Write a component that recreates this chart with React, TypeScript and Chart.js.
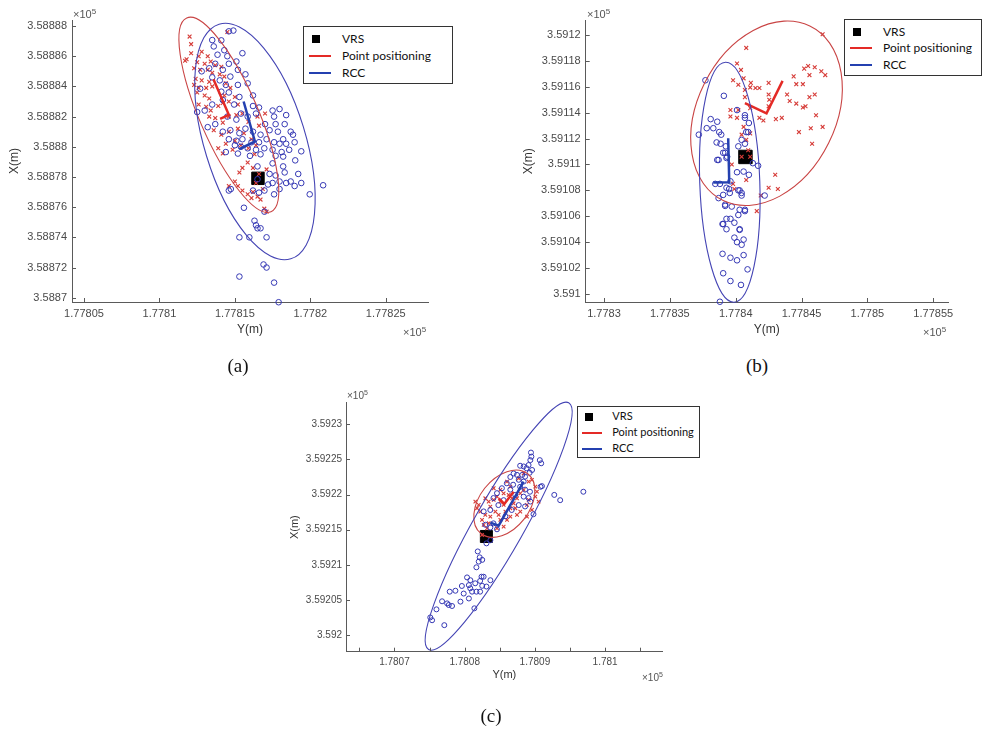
import React, { useEffect, useRef } from "react";
import { Chart, registerables } from "chart.js";
Chart.register(...registerables);

type Pt = [number, number];
type Ell = { center: Pt; semiMajor: number; semiMinor: number; angleDeg: number };

// ================= Panel (a) =================
const A_X_RANGE: Pt = [177804.205, 177827.8];
const A_Y_RANGE: Pt = [358869.715, 358888.4];
const A_X_STEP = 5;
const A_Y_STEP = 2;
const A_VRS: Pt[] = [[177816.53, 358877.91]];
const A_PP: Pt[] = [
  [177814.5, 358887.6], [177812.1, 358886.8], [177811.8, 358885.8], [177812.1, 358886.2], [177812.8, 358886.3],
  [177812.6, 358886.0], [177813.2, 358886.0], [177812.5, 358885.6], [177813.0, 358885.5], [177813.4, 358885.65],
  [177813.7, 358885.4], [177814.1, 358885.3], [177812.3, 358885.2], [177812.7, 358885.1], [177813.2, 358885.1],
  [177813.5, 358884.9], [177814.0, 358884.8], [177814.3, 358884.65], [177812.4, 358884.5], [177812.8, 358884.4],
  [177813.3, 358884.3], [177812.3, 358884.1], [177812.6, 358883.9], [177813.1, 358883.9], [177813.5, 358884.0],
  [177814.4, 358884.2], [177814.7, 358883.9], [177812.5, 358883.6], [177813.0, 358883.4], [177813.3, 358883.2],
  [177814.3, 358883.4], [177815.0, 358883.3], [177812.6, 358882.8], [177813.1, 358882.65], [177813.4, 358882.4],
  [177813.9, 358882.7], [177814.2, 358882.9], [177814.6, 358883.0], [177815.2, 358882.8], [177813.3, 358882.0],
  [177813.7, 358881.9], [177814.2, 358881.6], [177814.6, 358882.0], [177815.1, 358882.1], [177815.5, 358882.2],
  [177815.9, 358881.65], [177816.5, 358882.0], [177817.0, 358882.2], [177816.6, 358881.4], [177813.6, 358881.1],
  [177814.1, 358880.8], [177814.6, 358881.0], [177815.2, 358881.2], [177815.6, 358880.9], [177816.1, 358880.5],
  [177815.0, 358880.4], [177814.4, 358880.2], [177815.4, 358880.1], [177815.9, 358879.9], [177816.4, 358880.1],
  [177813.9, 358879.9], [177814.85, 358879.8], [177814.2, 358879.55], [177816.3, 358879.5], [177815.85, 358878.96],
  [177815.5, 358878.6], [177815.3, 358878.3], [177816.2, 358878.6], [177816.6, 358878.2], [177815.0, 358877.7],
  [177815.2, 358877.4], [177815.5, 358877.1], [177815.85, 358876.85], [177816.2, 358877.0], [177816.5, 358876.7],
  [177816.85, 358877.2], [177816.1, 358876.6], [177816.7, 358876.5], [177816.95, 358875.9], [177817.1, 358875.7],
  [177816.4, 358877.6], [177817.1, 358878.5], [177814.6, 358877.4], [177811.7, 358885.7], [177812.0, 358887.3],
];
const A_RCC: Pt[] = [
  [177814.6, 358887.65], [177814.9, 358887.7], [177814.1, 358887.05], [177813.6, 358886.65], [177814.3, 358886.4],
  [177814.5, 358886.0], [177813.85, 358886.1], [177815.5, 358886.2], [177815.1, 358885.65], [177814.6, 358885.5],
  [177813.7, 358885.5], [177813.3, 358885.2], [177812.8, 358885.0], [177814.2, 358885.1], [177815.2, 358885.1],
  [177815.7, 358884.8], [177814.7, 358884.65], [177814.0, 358884.4], [177813.5, 358884.6], [177814.4, 358884.1],
  [177815.2, 358884.1], [177815.85, 358884.2], [177814.1, 358883.65], [177814.6, 358883.6], [177815.3, 358883.3],
  [177816.2, 358883.4], [177814.2, 358883.1], [177814.95, 358882.8], [177813.5, 358882.8], [177813.0, 358882.4],
  [177812.5, 358882.3], [177813.7, 358881.5], [177813.2, 358881.3], [177814.5, 358882.0], [177815.4, 358882.2],
  [177815.1, 358881.8], [177815.85, 358882.0], [177816.4, 358882.2], [177816.2, 358882.7], [177816.6, 358882.6],
  [177817.5, 358882.4], [177817.96, 358882.5], [177817.6, 358882.0], [177818.4, 358882.1], [177817.7, 358881.5],
  [177818.3, 358881.5], [177817.0, 358881.5], [177817.3, 358881.1], [177817.85, 358881.0], [177818.7, 358881.0],
  [177818.85, 358880.8], [177818.2, 358880.5], [177814.2, 358881.0], [177814.7, 358881.1], [177815.3, 358880.9],
  [177815.7, 358881.2], [177816.2, 358881.0], [177816.7, 358880.8], [177814.6, 358880.5], [177815.1, 358880.4],
  [177815.5, 358880.5], [177816.1, 358880.3], [177816.6, 358880.3], [177817.1, 358880.5], [177817.6, 358880.3],
  [177817.96, 358880.2], [177818.4, 358880.2], [177818.96, 358880.3], [177815.0, 358880.1], [177815.4, 358880.0],
  [177815.85, 358879.9], [177816.4, 358879.8], [177816.95, 358879.9], [177817.5, 358879.8], [177818.1, 358879.65],
  [177818.6, 358879.8], [177819.4, 358879.7], [177814.4, 358879.65], [177815.2, 358879.55], [177816.0, 358879.4],
  [177816.7, 358879.5], [177817.7, 358879.4], [177818.2, 358879.35], [177816.5, 358878.7], [177817.5, 358878.9],
  [177818.2, 358878.7], [177819.0, 358879.1], [177817.3, 358878.2], [177817.7, 358878.1], [177818.3, 358878.3],
  [177819.2, 358878.2], [177817.5, 358877.6], [177817.96, 358877.7], [177818.4, 358877.6], [177818.7, 358877.7],
  [177818.96, 358877.4], [177819.4, 358877.6], [177820.85, 358877.45], [177819.96, 358876.85], [177817.2, 358877.5],
  [177816.5, 358877.85], [177816.2, 358877.1], [177816.6, 358876.96], [177816.96, 358877.1], [177817.6, 358876.85],
  [177817.96, 358877.2], [177814.6, 358877.1], [177815.6, 358875.96], [177816.96, 358875.7], [177816.3, 358875.1],
  [177816.4, 358874.8], [177816.5, 358874.6], [177816.7, 358874.6], [177815.3, 358874.0], [177815.96, 358874.0],
  [177817.1, 358874.0], [177816.9, 358872.2], [177817.1, 358872.0], [177815.3, 358871.4], [177817.6, 358871.0],
  [177817.9, 358869.7], [177813.5, 358887.07], [177812.7, 358883.85], [177814.73, 358877.2],
];
const A_PP_AXES: Pt[] = [[177813.58, 358884.47], [177814.6, 358882.12], [177814.02, 358881.85]];
const A_RCC_AXES: Pt[] = [[177815.58, 358883.0], [177816.33, 358880.35], [177815.29, 358879.85]];
const A_PP_ELLIPSE: Ell = { center: [177814.6, 358882.12], semiMajor: 7.0, semiMinor: 1.93, angleDeg: -66.5 };
const A_RCC_ELLIPSE: Ell = { center: [177816.33, 358880.35], semiMajor: 8.13, semiMinor: 3.35, angleDeg: -73 };

// ================= Panel (b) =================
const B_X_RANGE: Pt = [177828.61, 177856.12];
const B_Y_RANGE: Pt = [359099.38, 359121.1];
const B_X_STEP = 5;
const B_Y_STEP = 2;
const B_VRS: Pt[] = [[177840.74, 359110.58]];
const B_PP: Pt[] = [
  [177846.6, 359120.05], [177840.8, 359119.0], [177840.1, 359117.8], [177840.4, 359117.3], [177839.8, 359116.5],
  [177840.6, 359116.65], [177840.2, 359116.15], [177841.15, 359116.3], [177841.5, 359115.9], [177841.8, 359115.9],
  [177842.5, 359116.3], [177841.1, 359115.95], [177840.7, 359115.75], [177842.5, 359115.4], [177842.55, 359115.0],
  [177840.7, 359115.2], [177842.5, 359114.5], [177839.6, 359114.2], [177840.2, 359114.2], [177841.1, 359114.35],
  [177839.6, 359113.7], [177840.1, 359113.6], [177841.8, 359113.6], [177842.1, 359113.4], [177843.05, 359113.5],
  [177843.5, 359113.6], [177840.6, 359112.9], [177841.1, 359112.4], [177840.45, 359112.3], [177840.8, 359111.9],
  [177840.95, 359111.1], [177840.45, 359110.6], [177841.1, 359110.6], [177839.8, 359108.5], [177839.9, 359108.1],
  [177842.5, 359108.2], [177843.2, 359108.1], [177843.0, 359109.2], [177841.9, 359107.6], [177841.6, 359106.4],
  [177844.4, 359116.8], [177844.6, 359116.2], [177845.1, 359116.2], [177845.2, 359117.4], [177845.5, 359117.6],
  [177846.0, 359117.5], [177846.5, 359117.2], [177846.8, 359116.9], [177845.6, 359116.9], [177843.9, 359115.4],
  [177844.1, 359114.9], [177844.6, 359114.7], [177845.1, 359114.4], [177845.3, 359114.5], [177845.6, 359115.2],
  [177846.0, 359115.4], [177846.1, 359113.8], [177846.6, 359112.9], [177845.7, 359112.8], [177844.8, 359112.5],
  [177845.8, 359111.6], [177840.8, 359108.8], [177839.7, 359110.0],
];
const B_RCC: Pt[] = [
  [177837.7, 359116.5], [177839.1, 359115.3], [177840.1, 359114.2], [177838.1, 359113.5], [177838.6, 359113.3],
  [177837.8, 359112.8], [177838.3, 359112.8], [177837.2, 359112.3], [177838.75, 359112.5], [177838.9, 359112.3],
  [177840.7, 359113.6], [177841.0, 359113.2], [177840.8, 359112.5], [177840.45, 359111.9], [177838.55, 359111.7],
  [177838.85, 359111.6], [177839.25, 359111.4], [177839.05, 359110.9], [177839.35, 359110.6], [177840.2, 359111.4],
  [177838.6, 359110.35], [177840.1, 359109.4], [177840.6, 359109.45], [177841.0, 359109.2], [177841.3, 359110.1],
  [177841.7, 359109.9], [177838.45, 359108.5], [177838.8, 359108.5], [177839.6, 359108.7], [177838.7, 359107.4],
  [177839.5, 359108.1], [177839.55, 359107.8], [177840.3, 359108.0], [177840.45, 359107.6], [177842.2, 359107.6],
  [177839.2, 359106.8], [177839.7, 359106.75], [177840.3, 359106.5], [177840.7, 359106.4], [177839.3, 359105.8],
  [177839.05, 359105.4], [177839.9, 359105.5], [177839.3, 359105.0], [177840.3, 359105.0], [177839.9, 359104.35],
  [177840.1, 359104.0], [177840.6, 359104.2], [177839.0, 359103.1], [177839.6, 359102.8], [177840.1, 359102.6],
  [177840.6, 359103.0], [177840.9, 359101.9], [177839.05, 359101.6], [177839.6, 359101.0], [177840.4, 359100.7],
  [177838.8, 359099.4], [177839.2, 359110.9], [177838.7, 359110.35], [177839.3, 359110.5], [177840.7, 359111.6],
  [177840.95, 359112.5], [177840.7, 359113.8], [177839.3, 359108.2], [177839.05, 359107.65], [177840.2, 359108.0],
  [177840.45, 359107.8], [177839.2, 359106.9], [177840.7, 359106.5], [177840.2, 359106.1], [177839.6, 359105.8],
  [177839.0, 359105.4], [177840.3, 359104.95], [177840.45, 359103.8],
];
const B_PP_AXES: Pt[] = [[177843.56, 359116.45], [177842.34, 359113.95], [177840.7, 359114.73]];
const B_RCC_AXES: Pt[] = [[177839.43, 359112.02], [177839.51, 359108.63], [177838.29, 359108.6]];
const B_PP_ELLIPSE: Ell = { center: [177842.34, 359113.95], semiMajor: 7.5, semiMinor: 5.25, angleDeg: 64 };
const B_RCC_ELLIPSE: Ell = { center: [177839.55, 359108.63], semiMajor: 9.27, semiMinor: 2.28, angleDeg: 92 };

// ================= Panel (c) =================
const C_X_RANGE: Pt = [178063.1, 178108.2];
const C_Y_RANGE: Pt = [359197.62, 359233.08];
const C_X_STEP = 5;
const C_Y_STEP = 5;
const C_VRS: Pt[] = [[178083.09, 359214.03]];
const C_PP: Pt[] = [
  [178082.94, 359219.47], [178083.42, 359219.0], [178081.76, 359218.05], [178082.23, 359217.57], [178082.94, 359217.1],
  [178083.65, 359216.86], [178084.37, 359217.57], [178084.84, 359217.1], [178085.8, 359217.57], [178086.5, 359218.05],
  [178086.97, 359218.76], [178087.45, 359219.47], [178085.08, 359219.0], [178085.55, 359218.52], [178084.13, 359219.23],
  [178084.6, 359219.7], [178085.55, 359220.18], [178086.26, 359219.94], [178086.74, 359219.47], [178087.92, 359220.18],
  [178088.4, 359220.66], [178085.08, 359220.66], [178084.13, 359220.9], [178086.03, 359221.84], [178086.5, 359221.13],
  [178087.21, 359218.05], [178087.92, 359217.57], [178088.87, 359218.52], [178089.11, 359219.23], [178090.06, 359219.7],
  [178090.29, 359220.42], [178090.06, 359221.13], [178083.42, 359215.91], [178082.47, 359216.38], [178082.71, 359215.67],
  [178083.18, 359215.2], [178085.08, 359216.38], [178086.03, 359216.38], [178086.5, 359216.86], [178087.45, 359217.1],
  [178088.87, 359216.86], [178089.58, 359217.81], [178085.55, 359215.43], [178084.6, 359215.2], [178089.58, 359222.08],
  [178089.11, 359221.84], [178083.65, 359218.28], [178088.4, 359223.03], [178087.7, 359222.32], [178090.53, 359219.0],
  [178081.52, 359219.0], [178082.0, 359218.52], [178082.47, 359214.24],
];
const C_RCC: Pt[] = [
  [178089.44, 359225.98], [178089.5, 359225.4], [178089.35, 359224.9], [178090.7, 359224.9], [178090.9, 359224.45],
  [178089.1, 359224.2], [178088.8, 359223.75], [178087.9, 359224.1], [178088.4, 359224.0], [178089.6, 359223.5],
  [178089.25, 359223.1], [178086.97, 359223.0], [178087.45, 359222.8], [178088.2, 359222.8], [178088.6, 359222.55],
  [178086.5, 359222.5], [178087.7, 359222.1], [178088.4, 359221.85], [178086.0, 359221.6], [178086.9, 359221.4],
  [178087.9, 359221.1], [178090.8, 359221.1], [178091.0, 359221.2], [178085.3, 359220.9], [178086.5, 359220.7],
  [178088.6, 359220.7], [178089.3, 359220.4], [178092.76, 359219.95], [178093.6, 359219.2], [178096.9, 359220.4],
  [178084.6, 359220.2], [178087.2, 359219.95], [178088.4, 359219.7], [178089.1, 359219.5], [178089.35, 359219.0],
  [178084.1, 359219.5], [178085.55, 359219.2], [178084.8, 359218.5], [178087.7, 359218.5], [178088.6, 359218.3],
  [178086.7, 359217.8], [178082.7, 359217.6], [178083.65, 359217.8], [178089.8, 359217.2], [178085.8, 359216.9],
  [178084.1, 359215.9], [178082.95, 359215.7], [178083.65, 359215.3], [178084.6, 359215.05], [178083.1, 359213.05],
  [178083.66, 359213.5], [178081.86, 359211.9], [178082.14, 359211.06], [178082.5, 359210.7], [178082.0, 359210.45],
  [178081.67, 359209.64], [178080.34, 359208.2], [178080.81, 359207.8], [178082.4, 359208.3], [178082.7, 359208.3],
  [178082.2, 359207.7], [178083.66, 359207.8], [178081.5, 359207.36], [178082.5, 359207.0], [178083.1, 359206.9],
  [178080.6, 359207.1], [178080.8, 359206.65], [178079.6, 359206.98], [178081.67, 359206.17], [178081.05, 359206.17],
  [178082.2, 359206.17], [178078.68, 359206.3], [178077.87, 359206.17], [178079.86, 359205.9], [178080.6, 359205.2],
  [178079.4, 359204.75], [178076.78, 359204.8], [178077.5, 359204.5], [178077.73, 359204.27], [178078.2, 359204.13],
  [178081.38, 359203.8], [178075.98, 359203.65], [178075.1, 359202.5], [178075.36, 359202.1], [178077.1, 359201.4],
];
const C_PP_AXES: Pt[] = [[178086.97, 359220.41], [178085.65, 359218.66], [178084.84, 359219.47]];
const C_RCC_AXES: Pt[] = [[178088.39, 359221.84], [178084.84, 359215.57], [178083.66, 359216.0]];
const C_PP_ELLIPSE: Ell = { center: [178085.65, 359218.7], semiMajor: 5.4, semiMinor: 3.56, angleDeg: 52 };
const C_RCC_ELLIPSE: Ell = { center: [178084.84, 359215.5], semiMajor: 20.2, semiMinor: 3.56, angleDeg: 60.4 };

const LEGEND_LABELS = ["VRS", "Point positioning", "RCC"];
const PANEL_LABELS = ["(a)", "(b)", "(c)"];

// ================= styling =================
const RED_PT = "#d63c38";
const BLUE_PT = "#3538b4";
const RED_ELL = "#c94444";
const BLUE_ELL = "#4444b4";
const RED_LINE = "#e42a26";
const BLUE_LINE = "#2440b0";
const AXIS_COLOR = "#5a5a5a";
const TICK_TEXT = "#4a4a4a";
const SANS = "'Liberation Sans', Arial, sans-serif";

const fmt = (v: number) => String(parseFloat((v / 1e5).toFixed(6)));
const xy = (pts: Pt[]) => pts.map(([x, y]) => ({ x, y }));

function makeEllipsePlugin(items: { e: Ell; color: string }[]) {
  return {
    id: "errorEllipses",
    afterDatasetsDraw(chart: any) {
      const xs = chart.scales.x;
      const ys = chart.scales.y;
      const ctx = chart.ctx;
      items.forEach(({ e, color }) => {
        const cx = xs.getPixelForValue(e.center[0]);
        const cy = ys.getPixelForValue(e.center[1]);
        const sx = xs.getPixelForValue(e.center[0] + 1) - cx;
        const sy = cy - ys.getPixelForValue(e.center[1] + 1);
        ctx.save();
        ctx.translate(cx, cy);
        ctx.scale(sx, -sy);
        ctx.rotate((e.angleDeg * Math.PI) / 180);
        ctx.beginPath();
        ctx.ellipse(0, 0, e.semiMajor, e.semiMinor, 0, 0, Math.PI * 2);
        ctx.restore();
        ctx.save();
        ctx.lineWidth = 1.1;
        ctx.strokeStyle = color;
        ctx.stroke();
        ctx.restore();
      });
    },
  };
}

const inwardTicks = {
  id: "inwardTicks",
  afterDraw(chart: any) {
    const { ctx, chartArea } = chart;
    const xs = chart.scales.x;
    const ys = chart.scales.y;
    ctx.save();
    ctx.strokeStyle = AXIS_COLOR;
    ctx.lineWidth = 1;
    ctx.beginPath();
    xs.ticks.forEach((t: any) => {
      const p = Math.round(xs.getPixelForValue(t.value)) + 0.5;
      ctx.moveTo(p, chartArea.bottom);
      ctx.lineTo(p, chartArea.bottom - 4);
    });
    ys.ticks.forEach((t: any) => {
      const p = Math.round(ys.getPixelForValue(t.value)) + 0.5;
      ctx.moveTo(chartArea.left, p);
      ctx.lineTo(chartArea.left + 4, p);
    });
    ctx.stroke();
    ctx.restore();
  },
};

interface PanelData {
  xRange: Pt; yRange: Pt; xStep: number; yStep: number; xLabelEvery: number;
  vrs: Pt[]; pp: Pt[]; rcc: Pt[]; ppAxes: Pt[]; rccAxes: Pt[]; ppEll: Ell; rccEll: Ell;
}
interface PanelLayout {
  left: number; top: number; w: number; h: number;
  yAxisW: number; xAxisH: number; padTop: number; padRight: number;
  tickFont: number; titleFont: number; xTitlePad: number; yTitlePad: number;
  xTickPad: number; yTickPad: number; vrsR: number; ptR: number; crossR: number;
}

function Panel({ d, l }: { d: PanelData; l: PanelLayout }) {
  const ref = useRef<HTMLCanvasElement>(null);
  useEffect(() => {
    const chart = new Chart(ref.current as HTMLCanvasElement, {
      type: "scatter",
      data: {
        datasets: [
          { label: "RCC axes", data: xy(d.rccAxes), showLine: true, borderColor: BLUE_LINE, borderWidth: 2.5, pointRadius: 0, order: 0, clip: false } as any,
          { label: "PP axes", data: xy(d.ppAxes), showLine: true, borderColor: RED_LINE, borderWidth: 2.5, pointRadius: 0, order: 1, clip: false } as any,
          { label: "RCC", data: xy(d.rcc), pointStyle: "circle", pointRadius: l.ptR, borderWidth: 1, borderColor: BLUE_PT, backgroundColor: "rgba(0,0,0,0)", order: 2, clip: false } as any,
          { label: "Point positioning", data: xy(d.pp), pointStyle: "crossRot", pointRadius: l.crossR, borderWidth: 1.1, borderColor: RED_PT, backgroundColor: RED_PT, order: 3, clip: false } as any,
          { label: "VRS", data: xy(d.vrs), pointStyle: "rect", pointRadius: l.vrsR, borderWidth: 1, borderColor: "#000", backgroundColor: "#000", order: 4, clip: false } as any,
        ],
      },
      options: {
        animation: false,
        responsive: false,
        devicePixelRatio: 1,
        events: [],
        layout: { padding: { top: l.padTop, right: l.padRight, left: 0, bottom: 0 } },
        plugins: { legend: { display: false }, tooltip: { enabled: false } },
        scales: {
          x: {
            type: "linear",
            min: d.xRange[0],
            max: d.xRange[1],
            afterFit: (s: any) => { s.height = l.xAxisH; },
            grid: { display: false, drawTicks: false },
            border: { display: true, color: AXIS_COLOR, width: 1 },
            ticks: {
              stepSize: d.xStep,
              includeBounds: false,
              autoSkip: false,
              maxRotation: 0,
              minRotation: 0,
              padding: l.xTickPad,
              color: TICK_TEXT,
              font: { family: SANS, size: l.tickFont },
              callback: (v: any) => (Math.round(Number(v)) % d.xLabelEvery === 0 ? fmt(Number(v)) : ""),
            },
            title: { display: true, text: "Y(m)", color: "#333", font: { family: SANS, size: l.titleFont }, padding: { top: 0, bottom: l.xTitlePad } },
          },
          y: {
            type: "linear",
            min: d.yRange[0],
            max: d.yRange[1],
            afterFit: (s: any) => { s.width = l.yAxisW; },
            grid: { display: false, drawTicks: false },
            border: { display: true, color: AXIS_COLOR, width: 1 },
            ticks: {
              stepSize: d.yStep,
              includeBounds: false,
              autoSkip: false,
              padding: l.yTickPad,
              color: TICK_TEXT,
              font: { family: SANS, size: l.tickFont },
              callback: (v: any) => fmt(Number(v)),
            },
            title: { display: true, text: "X(m)", color: "#333", font: { family: SANS, size: l.titleFont }, padding: { top: l.yTitlePad, bottom: 0 } },
          },
        },
      } as any,
      plugins: [
        makeEllipsePlugin([
          { e: d.ppEll, color: RED_ELL },
          { e: d.rccEll, color: BLUE_ELL },
        ]),
        inwardTicks,
      ],
    });
    return () => chart.destroy();
  }, []);
  return (
    <canvas
      ref={ref}
      width={l.w}
      height={l.h}
      style={{ position: "absolute", left: l.left, top: l.top, width: l.w, height: l.h }}
    />
  );
}

function Times10({ left, top, size }: { left: number; top: number; size: number }) {
  return (
    <div style={{ position: "absolute", left, top, fontFamily: SANS, fontSize: size, lineHeight: `${size + 1}px`, color: "#555", whiteSpace: "nowrap" }}>
      ×10<span style={{ fontSize: size - 3, position: "relative", top: -4 }}>5</span>
    </div>
  );
}

interface LegendLayout {
  left: number; top: number; w: number; h: number; rows: number[]; sqX: number; lineX0: number; lineX1: number; textX: number; font: number;
}

function LegendBox({ g }: { g: LegendLayout }) {
  const lh = g.font + 3;
  return (
    <div style={{ position: "absolute", left: g.left, top: g.top, width: g.w, height: g.h, border: "1px solid #333", boxSizing: "border-box", background: "#fff" }}>
      <div style={{ position: "absolute", left: g.sqX - 4.5, top: g.rows[0] - 4.5, width: 8, height: 8, background: "#000" }} />
      <div style={{ position: "absolute", left: g.lineX0, top: g.rows[1] - 1.5, width: g.lineX1 - g.lineX0, height: 2, background: RED_LINE }} />
      <div style={{ position: "absolute", left: g.lineX0, top: g.rows[2] - 1.5, width: g.lineX1 - g.lineX0, height: 2, background: BLUE_LINE }} />
      {LEGEND_LABELS.map((t, i) => (
        <div key={t} style={{ position: "absolute", left: g.textX, top: g.rows[i] - lh / 2 - 1, lineHeight: `${lh}px`, fontFamily: "Lato, 'Open Sans', sans-serif", fontSize: g.font, color: "#111", whiteSpace: "nowrap" }}>
          {t}
        </div>
      ))}
    </div>
  );
}

const PANEL_A: PanelData = { xRange: A_X_RANGE, yRange: A_Y_RANGE, xStep: A_X_STEP, yStep: A_Y_STEP, xLabelEvery: 5, vrs: A_VRS, pp: A_PP, rcc: A_RCC, ppAxes: A_PP_AXES, rccAxes: A_RCC_AXES, ppEll: A_PP_ELLIPSE, rccEll: A_RCC_ELLIPSE };
const PANEL_B: PanelData = { xRange: B_X_RANGE, yRange: B_Y_RANGE, xStep: B_X_STEP, yStep: B_Y_STEP, xLabelEvery: 5, vrs: B_VRS, pp: B_PP, rcc: B_RCC, ppAxes: B_PP_AXES, rccAxes: B_RCC_AXES, ppEll: B_PP_ELLIPSE, rccEll: B_RCC_ELLIPSE };
const PANEL_C: PanelData = { xRange: C_X_RANGE, yRange: C_Y_RANGE, xStep: C_X_STEP, yStep: C_Y_STEP, xLabelEvery: 10, vrs: C_VRS, pp: C_PP, rcc: C_RCC, ppAxes: C_PP_AXES, rccAxes: C_RCC_AXES, ppEll: C_PP_ELLIPSE, rccEll: C_RCC_ELLIPSE };

const LAYOUT_A: PanelLayout = { left: 0, top: 0, w: 440, h: 340, yAxisW: 72, xAxisH: 38, padTop: 20, padRight: 12, tickFont: 11, titleFont: 12, xTitlePad: 2.8, yTitlePad: 7.8, xTickPad: 5, yTickPad: 5, vrsR: 8.8, ptR: 2.8, crossR: 2.7 };
const LAYOUT_B: PanelLayout = { left: 500, top: 0, w: 470, h: 340, yAxisW: 85.7, xAxisH: 38, padTop: 20.7, padRight: 22, tickFont: 11, titleFont: 12, xTitlePad: 2.8, yTitlePad: 21.1, xTickPad: 5, yTickPad: 5, vrsR: 9.5, ptR: 2.8, crossR: 2.7 };
const LAYOUT_C: PanelLayout = { left: 280, top: 390, w: 400, h: 300, yAxisW: 66, xAxisH: 38.3, padTop: 12.7, padRight: 17.3, tickFont: 10, titleFont: 11, xTitlePad: 8.4, yTitlePad: 8.4, xTickPad: 5, yTickPad: 4, vrsR: 8.5, ptR: 2.5, crossR: 2.5 };

const LEG_A: LegendLayout = { left: 303, top: 26, w: 150, h: 58, rows: [12.3, 29.3, 46.7], sqX: 12, lineX0: 5, lineX1: 27, textX: 38, font: 12 };
const LEG_B: LegendLayout = { left: 844, top: 19, w: 138, h: 57, rows: [12.4, 28.4, 45.7], sqX: 12.7, lineX0: 5, lineX1: 27, textX: 38, font: 12 };
const LEG_C: LegendLayout = { left: 577, top: 406, w: 123, h: 52, rows: [10.3, 26, 42], sqX: 11.6, lineX0: 4.3, lineX1: 24.3, textX: 34.3, font: 11 };

export default function App() {
  const labelStyle = (cx: number, cy: number): React.CSSProperties => ({
    position: "absolute", left: cx - 30, top: cy - 12, width: 60, lineHeight: "24px", textAlign: "center",
    fontFamily: "'Liberation Serif', 'Times New Roman', serif", fontSize: 19, color: "#111",
  });
  return (
    <div style={{ position: "absolute", left: 0, top: 0, width: 982, height: 729, background: "#fff", overflow: "hidden" }}>
      <Panel d={PANEL_A} l={LAYOUT_A} />
      <Panel d={PANEL_B} l={LAYOUT_B} />
      <Panel d={PANEL_C} l={LAYOUT_C} />
      <Times10 left={73} top={8} size={11} />
      <Times10 left={403} top={326} size={11} />
      <Times10 left={587} top={8} size={11} />
      <Times10 left={923} top={326} size={11} />
      <Times10 left={347} top={390} size={10} />
      <Times10 left={642} top={672} size={10} />
      <LegendBox g={LEG_A} />
      <LegendBox g={LEG_B} />
      <LegendBox g={LEG_C} />
      <div style={labelStyle(238, 366)}>{PANEL_LABELS[0]}</div>
      <div style={labelStyle(757, 366)}>{PANEL_LABELS[1]}</div>
      <div style={labelStyle(491, 716)}>{PANEL_LABELS[2]}</div>
    </div>
  );
}
